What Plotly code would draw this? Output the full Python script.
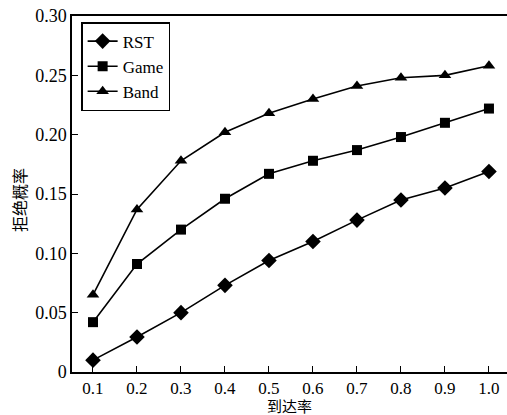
import plotly.graph_objects as go

x_vals = [0.1, 0.2, 0.3, 0.4, 0.5, 0.6, 0.7, 0.8, 0.9, 1.0]
x_ticktext = ["0.1", "0.2", "0.3", "0.4", "0.5", "0.6", "0.7", "0.8", "0.9", "1.0"]
rst = [0.010, 0.0295, 0.050, 0.073, 0.094, 0.110, 0.128, 0.145, 0.155, 0.169]
game = [0.042, 0.091, 0.120, 0.146, 0.167, 0.178, 0.187, 0.198, 0.210, 0.222]
band = [0.065, 0.137, 0.178, 0.202, 0.218, 0.230, 0.241, 0.248, 0.250, 0.258]
y_tickvals = [0, 0.05, 0.10, 0.15, 0.20, 0.25, 0.30]
y_ticktext = ["0", "0.05", "0.10", "0.15", "0.20", "0.25", "0.30"]
x_title = "到达率"
y_title = "拒绝概率"

serif = "Times New Roman, Liberation Serif, DejaVu Serif, serif"
cjk = "Noto Sans CJK SC"

fig = go.Figure()
series = [("RST", rst, "diamond", 12), ("Game", game, "square", 10), ("Band", band, "triangle-up", 11)]
for name, vals, sym, sz in series:
    fig.add_trace(go.Scatter(
        x=x_vals, y=vals, name=name, mode="lines+markers",
        line=dict(color="black", width=1.6),
        marker=dict(symbol=sym, size=sz, color="black"),
    ))

fig.update_layout(
    width=507, height=415,
    margin=dict(l=72, r=0, t=16, b=43, autoexpand=False),
    paper_bgcolor="white", plot_bgcolor="white",
    showlegend=True,
    legend=dict(
        x=0.021, y=0.983, xanchor="left", yanchor="top",
        bordercolor="black", borderwidth=1.5, bgcolor="white",
        font=dict(family=serif, size=17, color="black"),
        tracegroupgap=0, itemwidth=30,
    ),
    xaxis=dict(
        range=[0.0523, 1.041],
        tickvals=x_vals, ticktext=x_ticktext,
        ticks="inside", ticklen=6, tickwidth=1.2, tickcolor="black",
        showline=True, linecolor="black", linewidth=1.5, mirror=True,
        showgrid=False, zeroline=False,
        tickfont=dict(family=serif, size=17, color="black"),
        ticklabeloverflow="allow",
        automargin=False,
    ),
    yaxis=dict(
        range=[0, 0.30],
        tickvals=y_tickvals, ticktext=y_ticktext,
        ticks="inside", ticklen=6, tickwidth=1.2, tickcolor="black",
        showline=True, linecolor="black", linewidth=1.5,
        showgrid=False, zeroline=False,
        tickfont=dict(family=serif, size=18, color="black"),
        ticklabeloverflow="allow",
        automargin=False,
    ),
    annotations=[
        dict(text=x_title, xref="paper", yref="paper", x=0.5, y=-0.0927,
             xanchor="center", yanchor="middle", showarrow=False,
             font=dict(family=cjk, size=15, color="black")),
        dict(text=y_title, xref="paper", yref="paper", x=-0.1218, y=0.483,
             xanchor="center", yanchor="middle", textangle=-90, showarrow=False,
             font=dict(family=cjk, size=16, color="black")),
    ],
)

fig.write_html("out.html", config={"displayModeBar": False},
               post_script="document.body.style.margin='0';")
